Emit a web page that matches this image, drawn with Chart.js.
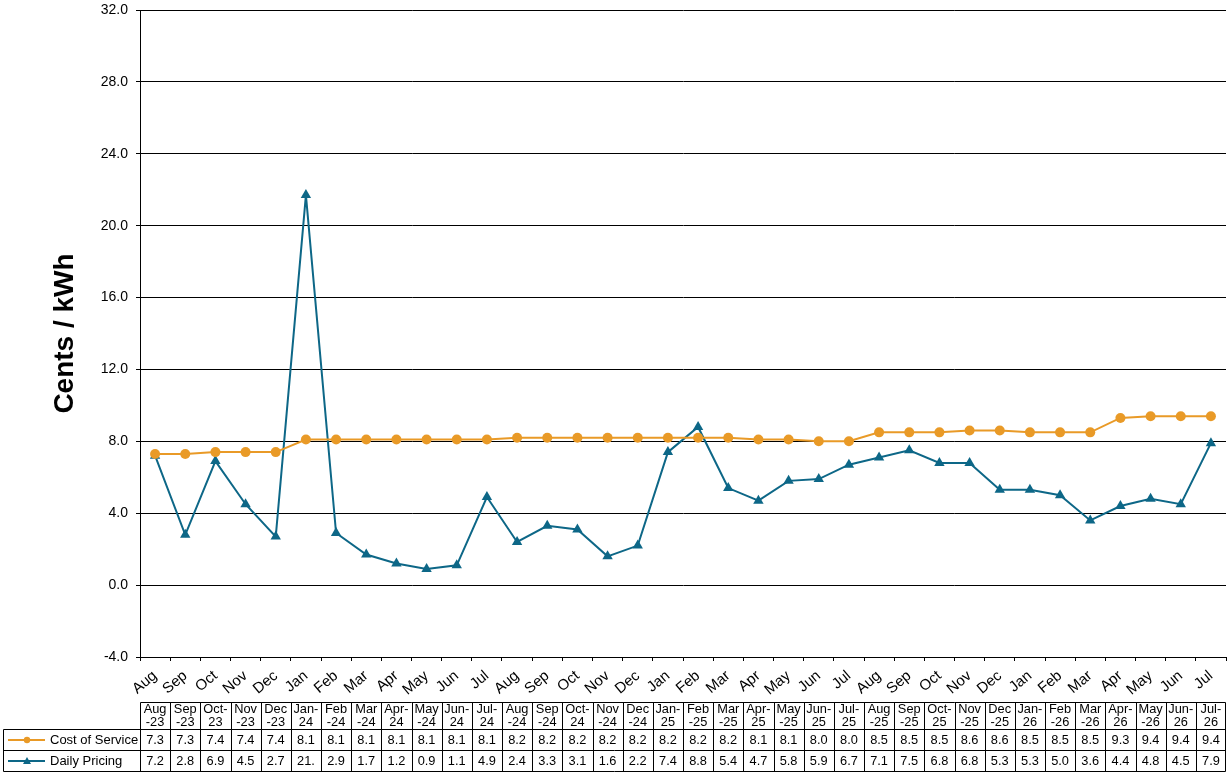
<!DOCTYPE html>
<html>
<head>
<meta charset="utf-8">
<script src="https://cdn.jsdelivr.net/npm/chart.js@4.4.1/dist/chart.umd.min.js"></script>
<style>
html,body{margin:0;padding:0;background:#fff;}
#wrap{width:1227px;height:773px;position:relative;}
</style>
</head>
<body>
<div id="wrap"><canvas id="c" width="1227" height="773"></canvas></div>
<script>
const months = ['Aug-23','Sep-23','Oct-23','Nov-23','Dec-23','Jan-24','Feb-24','Mar-24','Apr-24','May-24','Jun-24','Jul-24',
  'Aug-24','Sep-24','Oct-24','Nov-24','Dec-24','Jan-25','Feb-25','Mar-25','Apr-25','May-25','Jun-25','Jul-25',
  'Aug-25','Sep-25','Oct-25','Nov-25','Dec-25','Jan-26','Feb-26','Mar-26','Apr-26','May-26','Jun-26','Jul-26'];
const costOfService = [7.3,7.3,7.4,7.4,7.4,8.1,8.1,8.1,8.1,8.1,8.1,8.1,
  8.2,8.2,8.2,8.2,8.2,8.2,8.2,8.2,8.1,8.1,8.0,8.0,
  8.5,8.5,8.5,8.6,8.6,8.5,8.5,8.5,9.3,9.4,9.4,9.4];
const dailyPricing = [7.2,2.8,6.9,4.5,2.7,21.7,2.9,1.7,1.2,0.9,1.1,4.9,
  2.4,3.3,3.1,1.6,2.2,7.4,8.8,5.4,4.7,5.8,5.9,6.7,
  7.1,7.5,6.8,6.8,5.3,5.3,5.0,3.6,4.4,4.8,4.5,7.9];
const yMin = -4, yMax = 32, yStep = 4;
const seriesNames = ['Cost of Service','Daily Pricing'];

const ORANGE = '#E99A27';
const BLUE = '#0D6787';
const FONT = '"Liberation Sans", Arial, sans-serif';

const tablePlugin = {
  id: 'dataTable',
  afterDraw(chart) {
    const ctx = chart.ctx;
    const xs = chart.scales.x;
    const area = chart.chartArea;
    const n = months.length;
    const cw = (area.right - area.left) / n;
    const top = 702, hb = 729, r1 = 750, r2 = 771;
    ctx.save();
    ctx.strokeStyle = '#000';
    ctx.lineWidth = 1;
    ctx.fillStyle = '#000';
    ctx.font = '12.8px ' + FONT;
    ctx.textAlign = 'center';
    ctx.textBaseline = 'middle';
    const L = Math.round(area.left) + 0.5;
    const R = Math.min(Math.round(area.right) - 0.5, chart.width - 1.5);
    ctx.beginPath();
    ctx.moveTo(L, top + 0.5); ctx.lineTo(R, top + 0.5);
    ctx.moveTo(3.5, hb + 0.5); ctx.lineTo(R, hb + 0.5);
    ctx.moveTo(3.5, r1 + 0.5); ctx.lineTo(R, r1 + 0.5);
    ctx.moveTo(3.5, r2 + 0.5); ctx.lineTo(R, r2 + 0.5);
    ctx.moveTo(3.5, hb + 0.5); ctx.lineTo(3.5, r2 + 0.5);
    for (let i = 0; i <= n; i++) {
      const x = Math.min(Math.round(area.left + i * cw) + 0.5, R);
      ctx.moveTo(x, top + 0.5); ctx.lineTo(x, r2 + 0.5);
    }
    ctx.stroke();
    const fmt = v => { const s = v.toFixed(1); return s.length > 3 ? s.slice(0, 3) : s; };
    for (let i = 0; i < n; i++) {
      const cx = xs.getPixelForValue(i);
      const parts = months[i].split('-');
      let l1, l2;
      if (ctx.measureText(parts[0] + '-').width <= cw - 4.5) { l1 = parts[0] + '-'; l2 = parts[1]; }
      else { l1 = parts[0]; l2 = '-' + parts[1]; }
      ctx.fillText(l1, cx, 709);
      ctx.fillText(l2, cx, 722);
      ctx.fillText(fmt(costOfService[i]), cx, 740);
      ctx.fillText(fmt(dailyPricing[i]), cx, 761);
    }
    ctx.font = '13px ' + FONT;
    ctx.textAlign = 'left';
    const rows = [[ORANGE, 'circle', 740, seriesNames[0]], [BLUE, 'triangle', 761, seriesNames[1]]];
    rows.forEach(([col, shape, y, name]) => {
      ctx.strokeStyle = col; ctx.fillStyle = col; ctx.lineWidth = 2;
      ctx.beginPath(); ctx.moveTo(8, y); ctx.lineTo(45, y); ctx.stroke();
      ctx.beginPath();
      if (shape === 'circle') { ctx.arc(27, y, 3.2, 0, Math.PI * 2); }
      else { ctx.moveTo(27, y - 4); ctx.lineTo(31, y + 3); ctx.lineTo(23, y + 3); ctx.closePath(); }
      ctx.fill();
      ctx.fillStyle = '#000';
      ctx.fillText(name, 50, y);
    });
    ctx.restore();
  }
};

new Chart(document.getElementById('c'), {
  type: 'line',
  data: {
    labels: months,
    datasets: [
      { label: seriesNames[0], data: costOfService, borderColor: ORANGE, backgroundColor: ORANGE,
        borderWidth: 2, pointStyle: 'circle', pointRadius: 5, pointBorderWidth: 0, tension: 0 },
      { label: seriesNames[1], data: dailyPricing, borderColor: BLUE, backgroundColor: BLUE,
        borderWidth: 2, pointStyle: 'triangle', pointRadius: 6, pointBorderWidth: 0, tension: 0 }
    ]
  },
  options: {
    responsive: false,
    animation: false,
    devicePixelRatio: 1,
    layout: { autoPadding: false, padding: { top: 10, right: 1, left: 0, bottom: 0 } },
    plugins: { legend: { display: false }, tooltip: { enabled: false } },
    scales: {
      x: {
        type: 'category',
        offset: true,
        grid: { offset: true, drawOnChartArea: false, drawTicks: true, tickLength: 4, color: '#000' },
        border: { display: true, color: '#000' },
        ticks: {
          autoSkip: false, minRotation: 40, maxRotation: 40, padding: 6, color: '#000',
          font: { family: FONT, size: 15 },
          callback: function (v, i) { return months[i].split('-')[0]; }
        },
        afterFit: function (s) { s.height = 116; s.paddingLeft = 0; s.paddingRight = 0; }
      },
      y: {
        min: yMin, max: yMax,
        ticks: { stepSize: yStep, padding: 8, color: '#000', font: { family: FONT, size: 14 },
          callback: v => Number(v).toFixed(1) },
        grid: { color: '#000', lineWidth: 1, tickLength: 4 },
        border: { display: true, color: '#000' },
        title: { display: true, text: 'Cents / kWh', color: '#000',
          font: { family: FONT, size: 28, weight: 'bold' }, padding: { top: 48, bottom: 0 } },
        afterFit: function (s) { s.width = 140; s.paddingTop = 0; s.paddingBottom = 0; }
      }
    }
  },
  plugins: [tablePlugin]
});
</script>
</body>
</html>
